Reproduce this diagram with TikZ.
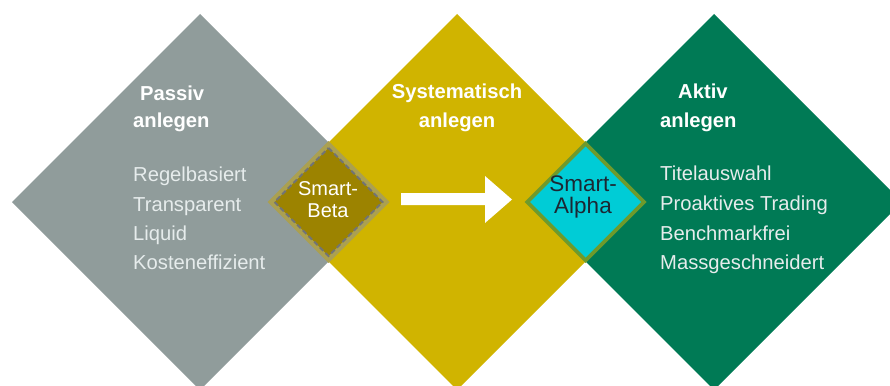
\documentclass[tikz,border=0pt]{standalone}
\usepackage{fontspec}
\setmainfont{Liberation Sans}
\definecolor{cgrey}{HTML}{909C9B}
\definecolor{cyel}{HTML}{D0B400}
\definecolor{cgreen}{HTML}{007A55}
\definecolor{cbeta}{HTML}{9C8300}
\definecolor{cbetaband}{HTML}{ABA050}
\definecolor{cdash}{HTML}{707378}
\definecolor{calpha}{HTML}{00CCD6}
\definecolor{calphaband}{HTML}{6E9A2C}
\definecolor{cbody}{HTML}{E6ECEC}
\definecolor{cdark}{HTML}{1C2733}
\tikzset{
  head/.style={text=white, font=\bfseries\fontsize{20.2}{24}\selectfont, inner sep=0pt},
  body/.style={text=cbody, font=\fontsize{20.2}{24}\selectfont, inner sep=0pt, anchor=base west},
  smartw/.style={text=white, font=\fontsize{20}{24}\selectfont, inner sep=0pt, anchor=base},
  smartd/.style={text=cdark, font=\fontsize{22.5}{24}\selectfont, inner sep=0pt, anchor=base},
}
\begin{document}
\begin{tikzpicture}[x=1pt,y=-1pt]
\useasboundingbox (0,0) rectangle (890,385);
\begin{scope}
\clip (0,0) rectangle (890,385);
% big diamonds
\fill[cgrey] (200,14) -- (388,202) -- (200,390) -- (12,202) -- cycle;
\fill[cyel] (457,14) -- (645,202) -- (457,390) -- (269,202) -- cycle;
\fill[cgreen] (714,14) -- (902,202) -- (714,390) -- (526,202) -- cycle;
% Smart-Beta
\fill[cbetaband] (328.5,141) -- (389.5,202) -- (328.5,263) -- (267.5,202) -- cycle;
\fill[cbeta] (328.5,148) -- (382.5,202) -- (328.5,256) -- (274.5,202) -- cycle;
\draw[cdash, line width=1.8pt, dash pattern=on 5pt off 3pt] (328.5,148) -- (382.5,202) -- (328.5,256) -- (274.5,202) -- cycle;
% Smart-Alpha
\fill[calphaband] (585.5,141) -- (646.5,202) -- (585.5,263) -- (524.5,202) -- cycle;
\fill[calpha] (585.5,146.5) -- (641,202) -- (585.5,257.5) -- (530,202) -- cycle;
% arrow
\fill[white] (401,193) -- (485,193) -- (485,176) -- (512,199.5) -- (485,223) -- (485,205) -- (401,205) -- cycle;
\end{scope}
% headings
\node[head, anchor=base west] (pas1) at (140,100) {Passiv};
\node[head, anchor=base west] (pas2) at (133,128) {anlegen};
\node[head, anchor=base] (sys1) at (457,99) {Systematisch};
\node[head, anchor=base] (sys2) at (457,128) {anlegen};
\node[head, anchor=base west] (akt1) at (678,99) {Aktiv};
\node[head, anchor=base west] (akt2) at (660,127) {anlegen};
% bodies
\node[body] (p1) at (133,181) {Regelbasiert};
\node[body] (p2) at (133,211) {Transparent};
\node[body] (p3) at (133,240) {Liquid};
\node[body] (p4) at (133,269) {Kosteneffizient};
\node[body] (a1) at (660,180) {Titelauswahl};
\node[body] (a2) at (660,210) {Proaktives Trading};
\node[body] (a3) at (660,240) {Benchmarkfrei};
\node[body] (a4) at (660,269) {Massgeschneidert};
% smart labels
\node[smartw] (sb1) at (328,195) {Smart-};
\node[smartw] (sb2) at (328,217) {Beta};
\node[smartd] (sa1) at (583,191) {Smart-};
\node[smartd] (sa2) at (583,213) {Alpha};
\end{tikzpicture}
\end{document}
